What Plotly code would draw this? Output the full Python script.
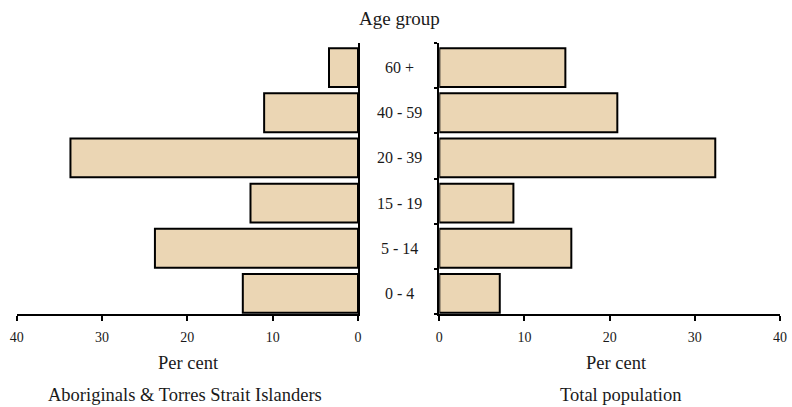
import plotly.graph_objects as go

age_groups = ["0 - 4", "5 - 14", "15 - 19", "20 - 39", "40 - 59", "60 +"]
aboriginal_pct = [13.5, 23.8, 12.6, 33.7, 11.0, 3.4]
total_pct = [7.1, 15.5, 8.7, 32.4, 20.9, 14.8]
x_ticks = [0, 10, 20, 30, 40]

W, H = 792, 407
FILL = "#EBD6B4"
FONT = "Liberation Serif"
TXT = "#1a1a1a"

def px(x):
    return x / W

def py(y):
    return 1 - y / H

bar_style = dict(orientation="h", width=0.86, offset=-0.475, showlegend=False,
                 marker=dict(color=FILL, line=dict(color="black", width=2)))

fig = go.Figure()
fig.add_trace(go.Bar(y=age_groups, x=aboriginal_pct, xaxis="x", yaxis="y", **bar_style))
fig.add_trace(go.Bar(y=age_groups, x=total_pct, xaxis="x2", yaxis="y2", **bar_style))

ydom = [py(314), py(43)]
axis_common = dict(
    tickvals=x_ticks, ticktext=[str(t) for t in x_ticks],
    ticks="outside", ticklen=5, tickwidth=1.5, tickcolor="black",
    ticklabelstandoff=4,
    showline=True, linecolor="black", linewidth=2, showgrid=False, zeroline=False,
    tickfont=dict(family=FONT, size=14, color=TXT), automargin=False,
)
fig.update_layout(
    width=W, height=H, autosize=False,
    margin=dict(l=0, r=0, t=0, b=0, pad=0, autoexpand=False),
    paper_bgcolor="white", plot_bgcolor="white",
    xaxis=dict(domain=[px(16.7), px(358)], range=[40, 0], anchor="y", **axis_common),
    xaxis2=dict(domain=[px(439.3), px(780)], range=[0, 40], anchor="y2", **axis_common),
    yaxis=dict(domain=ydom, anchor="x", side="right", type="category",
               categoryorder="array", categoryarray=age_groups, range=[-0.5, 5.5],
               showline=True, linecolor="black", linewidth=2, showgrid=False,
               showticklabels=False, ticks="", automargin=False),
    yaxis2=dict(domain=ydom, anchor="x2", side="left", type="category",
                categoryorder="array", categoryarray=age_groups, range=[-0.5, 5.5],
                showline=True, linecolor="black", linewidth=2, showgrid=False,
                showticklabels=False, ticks="outside", ticklen=3, tickwidth=1.5,
                tickcolor="black", tickson="boundaries", automargin=False),
)

annotations = []
for i, g in enumerate(age_groups):
    annotations.append(dict(x=px(399), xref="paper", y=i, yref="y", text=g,
                            showarrow=False, xanchor="center", yanchor="middle", yshift=-2,
                            font=dict(family=FONT, size=16, color=TXT)))
texts = [
    ("Age group", 399, 18, 19),
    ("Per cent", 188, 363, 18.5),
    ("Per cent", 616, 363, 18.5),
    ("Aboriginals &amp; Torres Strait Islanders", 185, 395, 18.5),
    ("Total population", 621, 395, 18.5),
]
for t, x, y, s in texts:
    annotations.append(dict(x=px(x), xref="paper", y=py(y), yref="paper", text=t,
                            showarrow=False, xanchor="center", yanchor="middle",
                            font=dict(family=FONT, size=s, color=TXT)))
fig.update_layout(annotations=annotations)

fig.write_html(
    "out.html",
    config={"responsive": False, "displayModeBar": False},
    post_script="document.body.style.margin='0';document.body.style.overflow='hidden';",
)
